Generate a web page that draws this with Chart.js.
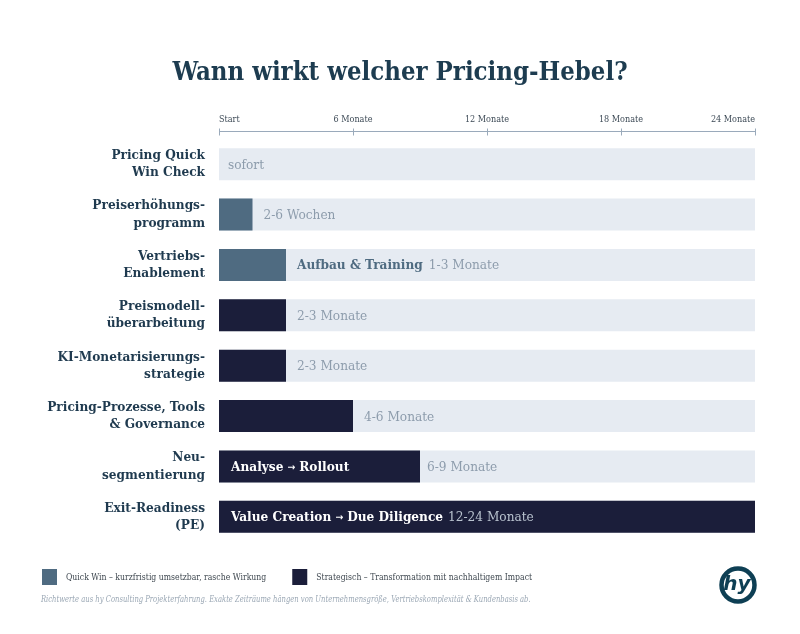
<!DOCTYPE html>
<html><head><meta charset="utf-8">
<script src="https://cdn.jsdelivr.net/npm/chart.js@4/dist/chart.umd.min.js"></script>
<style>html,body{margin:0;padding:0;background:#fff;} #wrap{position:relative;width:800px;height:634px;}</style>
</head><body><div id="wrap"><canvas id="c" width="800" height="634"></canvas></div>
<script>
const categories = [["Pricing Quick","Win Check"],["Preiserhöhungs-","programm"],["Vertriebs-","Enablement"],["Preismodell-","überarbeitung"],["KI-Monetarisierungs-","strategie"],["Pricing-Prozesse, Tools","& Governance"],["Neu-","segmentierung"],["Exit-Readiness","(PE)"]];
const durationMonths = [0, 1.5, 3, 3, 3, 6, 9, 24];
const leverType = ["quick","quick","quick","strategic","strategic","strategic","strategic","strategic"];
const durationLabels = ["sofort","2-6 Wochen","1-3 Monate","2-3 Monate","2-3 Monate","4-6 Monate","6-9 Monate","12-24 Monate"];
const phaseLabels = ["","","Aufbau & Training","","","","Analyse → Rollout","Value Creation → Due Diligence"];
const axisTicks = [0, 6, 12, 18, 24];
const axisTickLabels = ["Start","6 Monate","12 Monate","18 Monate","24 Monate"];
const timelineMax = 24;
const legendTypes = ["quick","strategic"];
const legendLabels = ["Quick Win – kurzfristig umsetzbar, rasche Wirkung","Strategisch – Transformation mit nachhaltigem Impact"];
const titleText = "Wann wirkt welcher Pricing-Hebel?";
const footnoteText = "Richtwerte aus hy Consulting Projekterfahrung. Exakte Zeiträume hängen von Unternehmensgröße, Vertriebskomplexität & Kundenbasis ab.";

const C = {title:'#1d3c50', label:'#1f3a4f', quick:'#4f6b81', strategic:'#1b1e3a', track:'#e6ebf2',
  muted:'#8d9cac', onDark:'#b9c3cf', axis:'#9aaabb', tick:'#3d4a56', legend:'#3f4850', foot:'#9aa7b4', logo:'#0e3f54'};
const SERIF = '"DejaVu Serif Condensed","DejaVu Serif",serif';

function drawPhase(ctx, text, x, y, color, size) {
  const parts = text.split('→');
  let cx = x;
  ctx.fillStyle = color;
  ctx.textAlign = 'left';
  ctx.textBaseline = 'middle';
  parts.forEach((p, k) => {
    ctx.font = `bold ${size}px ${SERIF}`;
    const t = p.trim();
    if (k > 0) { cx += 4; }
    ctx.fillText(t, cx, y);
    cx += ctx.measureText(t).width;
    if (k < parts.length - 1) {
      cx += 4;
      ctx.font = `bold ${size*0.7}px "DejaVu Sans", sans-serif`;
      ctx.fillText('→', cx, y);
      cx += ctx.measureText('→').width;
    }
  });
  return cx - x;
}

function scaledText(ctx, text, x, y, sx) {
  ctx.save();
  ctx.translate(x, y);
  ctx.scale(sx, 1);
  ctx.fillText(text, 0, 0);
  const w = ctx.measureText(text).width * sx;
  ctx.restore();
  return w;
}

const decor = {
  id: 'decor',
  afterDatasetsDraw(chart) {
    const ctx = chart.ctx, xs = chart.scales.x, meta = chart.getDatasetMeta(0);
    const base = xs.getPixelForValue(0);
    ctx.save();
    meta.data.forEach((bar, i) => {
      const end = bar.x, y = bar.y + 1;
      const phase = phaseLabels[i], dur = durationLabels[i];
      ctx.font = `13.5px ${SERIF}`;
      const durW = ctx.measureText(dur).width;
      if (phase) {
        ctx.font = `bold 13.5px ${SERIF}`;
        const approx = ctx.measureText(phase).width;
        if (approx + 26 < end - base) {
          const w = drawPhase(ctx, phase, base + 12, y, '#ffffff', 13.5);
          ctx.font = `13.5px ${SERIF}`;
          ctx.textAlign = 'left';
          if (end - (base + 12 + w) > durW + 20) {
            ctx.fillStyle = C.onDark; ctx.fillText(dur, base + 12 + w + 5, y);
          } else {
            ctx.fillStyle = C.muted; ctx.fillText(dur, end + 7, y);
          }
        } else {
          const w = drawPhase(ctx, phase, end + 11, y, C.quick, 13.5);
          ctx.font = `13.5px ${SERIF}`;
          ctx.fillStyle = C.muted; ctx.textAlign = 'left';
          ctx.fillText(dur, end + 11 + w + 6, y);
        }
      } else {
        ctx.font = `13.5px ${SERIF}`;
        ctx.fillStyle = C.muted; ctx.textAlign = 'left'; ctx.textBaseline = 'middle';
        ctx.fillText(dur, durationMonths[i] > 0 ? end + 11 : base + 9, y);
      }
    });
    ctx.restore();
  },
  afterDraw(chart) {
    const ctx = chart.ctx, xs = chart.scales.x, area = chart.chartArea;
    ctx.save();
    // title
    ctx.font = `bold 25.5px ${SERIF}`;
    ctx.fillStyle = C.title; ctx.textAlign = 'center'; ctx.textBaseline = 'middle';
    ctx.fillText(titleText, 400, 73);
    // top axis
    const ay = Math.round(area.top - 8) + 0.5;
    ctx.strokeStyle = C.axis; ctx.lineWidth = 1;
    ctx.beginPath();
    ctx.moveTo(xs.getPixelForValue(0), ay); ctx.lineTo(xs.getPixelForValue(timelineMax), ay);
    axisTicks.forEach(v => { const px = Math.round(xs.getPixelForValue(v)) + 0.5; ctx.moveTo(px, ay - 3); ctx.lineTo(px, ay + 4); });
    ctx.stroke();
    ctx.font = `9px ${SERIF}`; ctx.fillStyle = C.tick; ctx.textBaseline = 'middle';
    axisTicks.forEach((v, k) => {
      ctx.textAlign = k === 0 ? 'left' : (k === axisTicks.length - 1 ? 'right' : 'center');
      ctx.fillText(axisTickLabels[k], xs.getPixelForValue(v), ay - 12);
    });
    // legend
    let lx = 42;
    legendTypes.forEach((t, k) => {
      ctx.fillStyle = C[t];
      ctx.fillRect(lx, 569, 15, 16);
      ctx.font = `10px ${SERIF}`; ctx.fillStyle = C.legend; ctx.textAlign = 'left'; ctx.textBaseline = 'middle';
      const w = scaledText(ctx, legendLabels[k], lx + 24, 577, 0.86);
      lx += 24 + w + 26;
    });
    // footnote
    ctx.font = `italic 8.5px ${SERIF}`; ctx.fillStyle = C.foot; ctx.textAlign = 'left'; ctx.textBaseline = 'middle';
    scaledText(ctx, footnoteText, 41, 600, 0.89);
    // logo
    ctx.strokeStyle = C.logo; ctx.lineWidth = 4.5;
    ctx.beginPath(); ctx.arc(738, 585, 16.5, 0, Math.PI * 2); ctx.stroke();
    ctx.fillStyle = C.logo; ctx.font = 'italic bold 20px "DejaVu Sans", sans-serif'; ctx.textAlign = 'center'; ctx.textBaseline = 'middle';
    ctx.fillText('hy', 737, 585);
    ctx.restore();
  }
};

new Chart(document.getElementById('c'), {
  type: 'bar',
  data: {
    labels: categories,
    datasets: [
      {label: 'Dauer', data: durationMonths, backgroundColor: leverType.map(t => C[t]), grouped: false, order: 0,
       barPercentage: 0.635, categoryPercentage: 1},
      {label: 'Zeitraum', data: categories.map(() => timelineMax), backgroundColor: C.track, grouped: false, order: 1,
       barPercentage: 0.635, categoryPercentage: 1}
    ]
  },
  options: {
    indexAxis: 'y', responsive: false, animation: false,
    layout: {padding: {top: 139, bottom: 92, left: 0, right: 45}},
    scales: {
      x: {display: false, min: 0, max: timelineMax},
      y: {
        afterFit(s) { s.width = 219; },
        grid: {display: false, drawTicks: false}, border: {display: false},
        ticks: {padding: 14, color: C.label, font: {family: SERIF, weight: 'bold', size: 13.5, lineHeight: 1.27}}
      }
    },
    plugins: {legend: {display: false}, tooltip: {enabled: false}}
  },
  plugins: [decor]
});
</script>
</body></html>
